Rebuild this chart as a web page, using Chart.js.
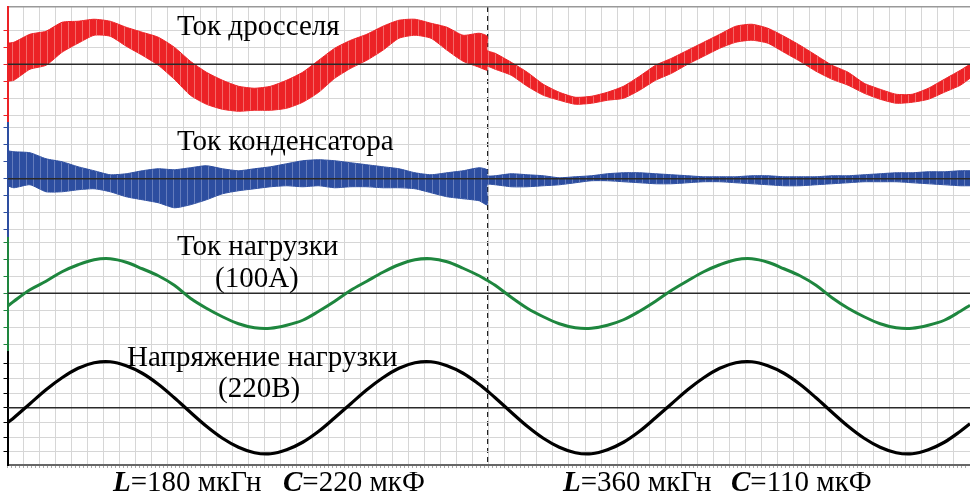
<!DOCTYPE html>
<html>
<head>
<meta charset="utf-8">
<script src="https://cdn.jsdelivr.net/npm/chart.js@4.4.0/dist/chart.umd.min.js"></script>
<style>
html, body { margin: 0; padding: 0; background: #fff; }
#wrap { position: relative; width: 970px; height: 497px; overflow: hidden; }
#c { position: absolute; left: 0; top: 0; }
.lbl { position: absolute; font-family: "Liberation Serif", "Times New Roman", serif; font-size: 29px; line-height: 29px; color: #000; white-space: nowrap; }
.lbl i { font-weight: bold; }
</style>
</head>
<body>
<div id="wrap">
	<canvas id="c" width="970" height="497"></canvas>
	<div class="lbl" style="left:177px;top:11px">Ток дросселя</div>
	<div class="lbl" style="left:177px;top:126px">Ток конденсатора</div>
	<div class="lbl" style="left:177px;top:231px">Ток нагрузки</div>
	<div class="lbl" style="left:215px;top:263px">(100А)</div>
	<div class="lbl" style="left:127px;top:342px">Напряжение нагрузки</div>
	<div class="lbl" style="left:218px;top:373px">(220В)</div>
	<div class="lbl" style="left:113px;top:467px"><i>L</i>=180 мкГн</div>
	<div class="lbl" style="left:283px;top:467px"><i>C</i>=220 мкФ</div>
	<div class="lbl" style="left:563px;top:467px"><i>L</i>=360 мкГн</div>
	<div class="lbl" style="left:731px;top:467px"><i>C</i>=110 мкФ</div>
</div>
<script>
// time, ms (the switch of L/C happens at 29.5 ms, hence the doubled point)
var timeMs = [-0.4, 0, 1, 2, 3, 4, 5, 6, 7, 8, 9, 10, 11, 12, 13, 14, 15, 16, 17, 18, 19,
	20, 21, 22, 23, 24, 25, 26, 27, 28, 29, 29.5, 29.5, 30, 31, 32, 33, 34, 35, 36, 37, 38, 39,
	40, 41, 42, 43, 44, 45, 46, 47, 48, 49, 50, 51, 52, 53, 54, 55, 56, 57, 58, 59, 59.6];
var switchMs = 29.5;

// inductor current, ripple band (upper / lower edge)
var chokeHi = [21, 22, 30, 33, 42, 43, 45, 43, 37, 32, 27, 17, 3, -8, -16, -22, -24, -22, -16, -8, 4,
	16, 24, 30, 38, 44, 45, 41, 37, 29, 31, 28, 14, 11, 2, -8, -20, -28, -33, -32, -28, -22, -12,
	-1, 6, 14, 22, 30, 38, 40, 36, 28, 19, 9, -1, -8, -19, -25, -30, -30, -24, -15, -6, 0];
var chokeLo = [-17, -16, -5, -1, 12, 21, 29, 28, 18, 9, -1, -15, -31, -40, -45, -47, -46, -46, -44, -38, -28,
	-14, -4, 4, 14, 26, 29, 26, 14, 3, -3, -6, -2, -5, -11, -22, -31, -36, -40, -39, -36, -34, -26,
	-16, -9, 0, 8, 16, 22, 24, 21, 12, 3, -7, -15, -21, -29, -35, -39, -38, -35, -28, -21, -14];

// capacitor current band
var capHi = [28, 27, 26, 20, 17, 12, 8, 4, 5, 8, 10, 9, 11, 13, 10, 8, 10, 12, 15, 18, 19,
	18, 16, 14, 12, 10, 6, 4, 6, 8, 11, 9, 3, 3, 5, 4, 3, 1, 2, 3, 5, 6, 6,
	5, 4, 3, 2, 2, 2, 3, 3, 2, 2, 2, 3, 3, 4, 5, 6, 6, 7, 7, 8, 8];
var capLo = [-7, -9, -6, -13, -13, -11, -10, -13, -18, -21, -24, -29, -26, -21, -15, -12, -10, -8, -7, -8, -7,
	-9, -8, -8, -9, -9, -10, -14, -18, -20, -22, -26, -6, -6, -8, -8, -7, -6, -4, -2, -2, -3, -4,
	-5, -5, -4, -3, -3, -4, -5, -6, -7, -7, -6, -5, -4, -3, -3, -3, -4, -5, -6, -7, -7];

// load current
var loadI = [-13, -8, 3.5, 12, 21.5, 28.5, 33.5, 34.5, 31, 24.5, 17.5, 8, -5, -15, -23.5, -30.5, -34.5, -35, -32, -27, -18,
	-8, 3, 12, 21, 28.5, 33.5, 34.5, 31.5, 25, 17.5, 13, 13, 8, -4, -15, -23.5, -30.5, -34.5, -35, -32, -26.5, -18,
	-8, 3, 12.5, 21.5, 28.5, 33.5, 34.5, 31, 24.5, 17.5, 8, -4.5, -15, -23.5, -30.5, -34.5, -35, -32, -27, -18, -12];

// load voltage
var loadU = [-15, -10, 4, 18, 30, 39.5, 45, 46, 42, 34.5, 23.5, 10, -4.5, -18.5, -30.5, -39.5, -45, -46, -42, -34.5, -23.5,
	-10, 4, 18, 30, 39.5, 45, 46, 42, 34.5, 23.5, 17, 17, 10, -4.5, -18.5, -30.5, -39.5, -45, -46, -42, -34.5, -23.5,
	-10, 4, 18, 30, 39.5, 45, 46, 42, 34.5, 23.5, 10, -4.5, -18.5, -30.5, -39.5, -45, -46, -42, -34.5, -23.5, -16];

var RED = "rgb(236, 34, 38)";
var BLUE = "rgb(45, 78, 160)";
var GREEN = "rgb(30, 134, 62)";
var BLACK = "#000";
var GRID = "#d6d6d6";

// ripple look: solid colour with faint light streaks
function stripes(base, light) {
	var p = document.createElement("canvas");
	p.width = 7; p.height = 4;
	var g = p.getContext("2d");
	g.fillStyle = base; g.fillRect(0, 0, 7, 4);
	g.fillStyle = light; g.fillRect(5, 0, 1, 4);
	return g.createPattern(p, "repeat");
}

function pts(arr) {
	return timeMs.map(function (t, i) { return { x: t, y: arr[i] }; });
}

function zeroLine(axis) {
	return {
		data: [{ x: -0.4, y: 0 }, { x: 59.6, y: 0 }],
		yAxisID: axis, borderColor: "#2a2a2a", borderWidth: 1.4,
		pointRadius: 0, fill: false, order: 2
	};
}

function band(arr, color, fillStyle, axis, fill) {
	return {
		data: pts(arr), yAxisID: axis, borderColor: color, backgroundColor: fillStyle,
		borderWidth: 1, pointRadius: 0, tension: 0.2, fill: fill, order: 3
	};
}

function trace(arr, color, axis, w) {
	return {
		data: pts(arr), yAxisID: axis, borderColor: color, borderWidth: w,
		pointRadius: 0, tension: 0.35, fill: false, order: 1
	};
}

function panel(color, step, lo, hi) {
	return {
		type: "linear", position: "left", stack: "osc", stackWeight: 1,
		min: -57.25, max: 57.25,
		ticks: { display: false, stepSize: step, includeBounds: false },
		grid: {
			color: function (c) { return c.tick && c.tick.value === 0 ? "#2a2a2a" : GRID; },
			lineWidth: 1, drawTicks: true, tickLength: 4, tickColor: color
		},
		border: { display: true, color: color, width: 2 },
		afterBuildTicks: function (s) {
			s.ticks = s.ticks.filter(function (t) { return t.value >= lo && t.value <= hi; });
		},
		afterFit: function (s) { s.width = 4; }
	};
}

function create() {
	var ctx = document.getElementById("c");
	var redFill = stripes(RED, "rgb(243, 105, 105)");
	var blueFill = stripes(BLUE, "rgb(100, 124, 188)");
	var data = {
		datasets: [
			zeroLine("y1"), zeroLine("y2"), zeroLine("y3"), zeroLine("y4"),
			band(chokeHi, RED, redFill, "y1", "+1"), band(chokeLo, RED, redFill, "y1", false),
			band(capHi, BLUE, blueFill, "y2", "+1"), band(capLo, BLUE, blueFill, "y2", false),
			trace(loadI, GREEN, "y3", 3),
			trace(loadU, BLACK, "y4", 3.2)
		]
	};
	var options = {
		responsive: false,
		animation: false,
		events: [],
		layout: { padding: { left: 3.5, right: 0, top: 7, bottom: 28 } },
		plugins: { legend: { display: false }, tooltip: { enabled: false } },
		scales: {
			x: {
				type: "linear", position: "bottom", min: -0.4, max: 59.6,
				ticks: { display: false, stepSize: 1, includeBounds: false },
				grid: { color: GRID, lineWidth: 1, drawTicks: false },
				border: { display: true, color: "#666", width: 2 },
				afterFit: function (s) { s.height = 0; }
			},
			xm: {
				type: "linear", position: "bottom", min: -0.4, max: 59.6,
				ticks: { display: false, stepSize: 0.25, includeBounds: false },
				grid: { drawOnChartArea: false, drawTicks: true, tickLength: 3, color: "#aaa" },
				border: { display: false },
				afterFit: function (s) { s.height = 4; }
			},
			xt: {
				type: "linear", position: "top", min: -0.4, max: 59.6,
				ticks: { display: false },
				grid: { display: false },
				border: { display: true, color: "#999", width: 1.5 },
				afterFit: function (s) { s.height = 0; }
			},
			xd: {
				type: "linear", position: "top", min: -0.4, max: 59.6, z: 1,
				ticks: { display: false },
				grid: { color: "#222", lineWidth: 1.2, drawTicks: false },
				border: { display: false, dash: [5, 4] },
				afterBuildTicks: function (s) { s.ticks = [{ value: switchMs }]; },
				afterFit: function (s) { s.height = 0; }
			},
			// stacked panels are laid out bottom-up in key order
			y4: panel(BLACK, 14.7, -45, 45),
			y3: panel(GREEN, 17, -52, 52),
			y2: panel(BLUE, 17, -52, 52),
			y1: panel(RED, 17, -52, 40)
		}
	};
	new Chart(ctx, { type: "line", data: data, options: options });
}

create();
</script>
</body>
</html>
